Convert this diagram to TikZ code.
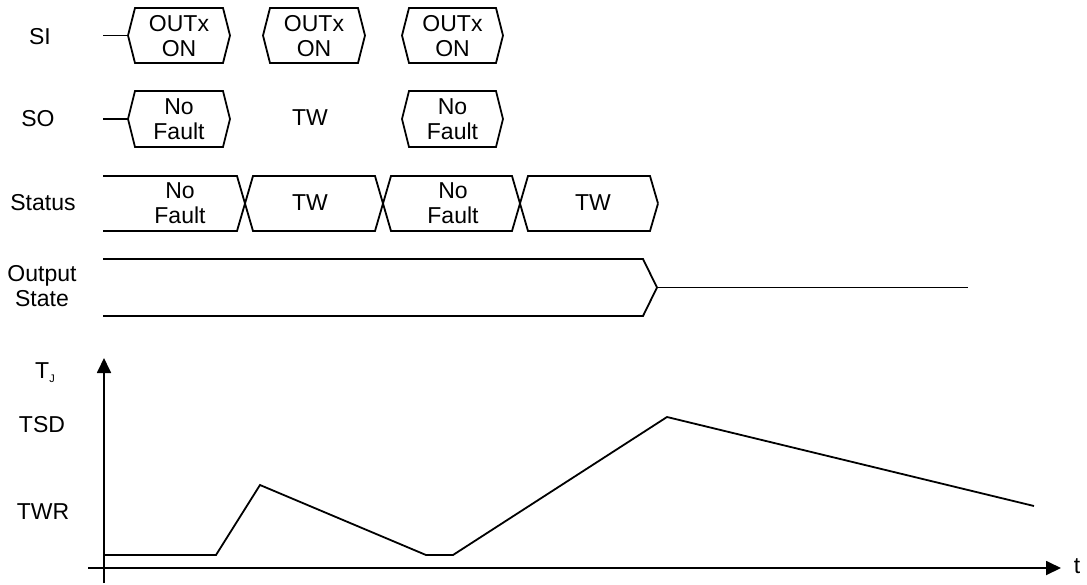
\documentclass[tikz,border=0pt]{standalone}
\usepackage{fontspec}
\setmainfont{Liberation Sans}
\usetikzlibrary{arrows.meta}
\tikzset{
  sig/.style={line width=1.8pt, line join=miter},
  lbl/.style={font=\fontsize{23}{25}\selectfont, align=center, inner sep=0pt},
  axis/.style={line width=1.8pt, -{Triangle[length=15pt,width=14pt]}},
}
\newcommand\hexpath[4]{% x1, x2, top, bottom
  \draw[sig] ({#1+7},#3) -- ({#2-7},#3) -- (#2,{(#3+#4)/2}) -- ({#2-7},#4) -- ({#1+7},#4) -- (#1,{(#3+#4)/2}) -- cycle;}
\begin{document}
\begin{tikzpicture}[x=1pt,y=-1pt]
\useasboundingbox (0,0) rectangle (1087,584);
% labels
\node[lbl] (lSI) at (40,37) {SI};
\node[lbl] (lSO) at (38,119) {SO};
\node[lbl] (lStatus) at (43,203) {Status};
\node[lbl] (lOut) at (42,286) {Output\\State};
% SI row
\draw[sig] (103,35.5) -- (128,35.5);
\hexpath{128}{230}{8}{63}
\hexpath{263}{365}{8}{63}
\hexpath{402}{503}{8}{63}
\node[lbl] (si1) at (179,36) {OUTx\\ON};
\node[lbl] (si2) at (314,36) {OUTx\\ON};
\node[lbl] (si3) at (452.5,36) {OUTx\\ON};
% SO row
\draw[sig] (103,119) -- (128,119);
\hexpath{128}{230}{91}{147}
\hexpath{402}{503}{91}{147}
\node[lbl] (so1) at (179,119) {No\\Fault};
\node[lbl] (so2) at (310,118) {TW};
\node[lbl] (so3) at (452.5,119) {No\\Fault};
% Status row
\draw[sig] (103,176) -- (237,176) -- (253,231) -- (375,231) -- (391,176) -- (512,176) -- (528,231) -- (650,231) -- (658,203.5);
\draw[sig] (103,231) -- (237,231) -- (253,176) -- (375,176) -- (391,231) -- (512,231) -- (528,176) -- (650,176) -- (658,203.5);
\node[lbl] (st1) at (180,203) {No\\Fault};
\node[lbl] (st2) at (310,203) {TW};
\node[lbl] (st3) at (453,203) {No\\Fault};
\node[lbl] (st4) at (593,203) {TW};
% Output state
\draw[sig] (103,259) -- (643,259) -- (657,287.5) -- (643,316) -- (103,316);
\draw[sig] (657,287.5) -- (968,287.5);
% graph
\coordinate (ybot) at (104,583);
\coordinate (ytop) at (104,358);
\coordinate (xl) at (88,568);
\coordinate (xr) at (1061,568);
\draw[axis] (ybot) -- (ytop);
\draw[axis] (xl) -- (xr);
\draw[sig] (104,555) -- (216,555) -- (260,485) -- (426,555) -- (453,555) -- (667,417) -- (1034,506);
\node[lbl] (lTJ) at (45,373) {T\raisebox{-4pt}{\fontsize{11}{11}\selectfont J}};
\node[lbl] (lTSD) at (42,425) {TSD};
\node[lbl] (lTWR) at (43,512) {TWR};
\node[lbl] (lt) at (1077,566) {t};
\end{tikzpicture}
\end{document}
